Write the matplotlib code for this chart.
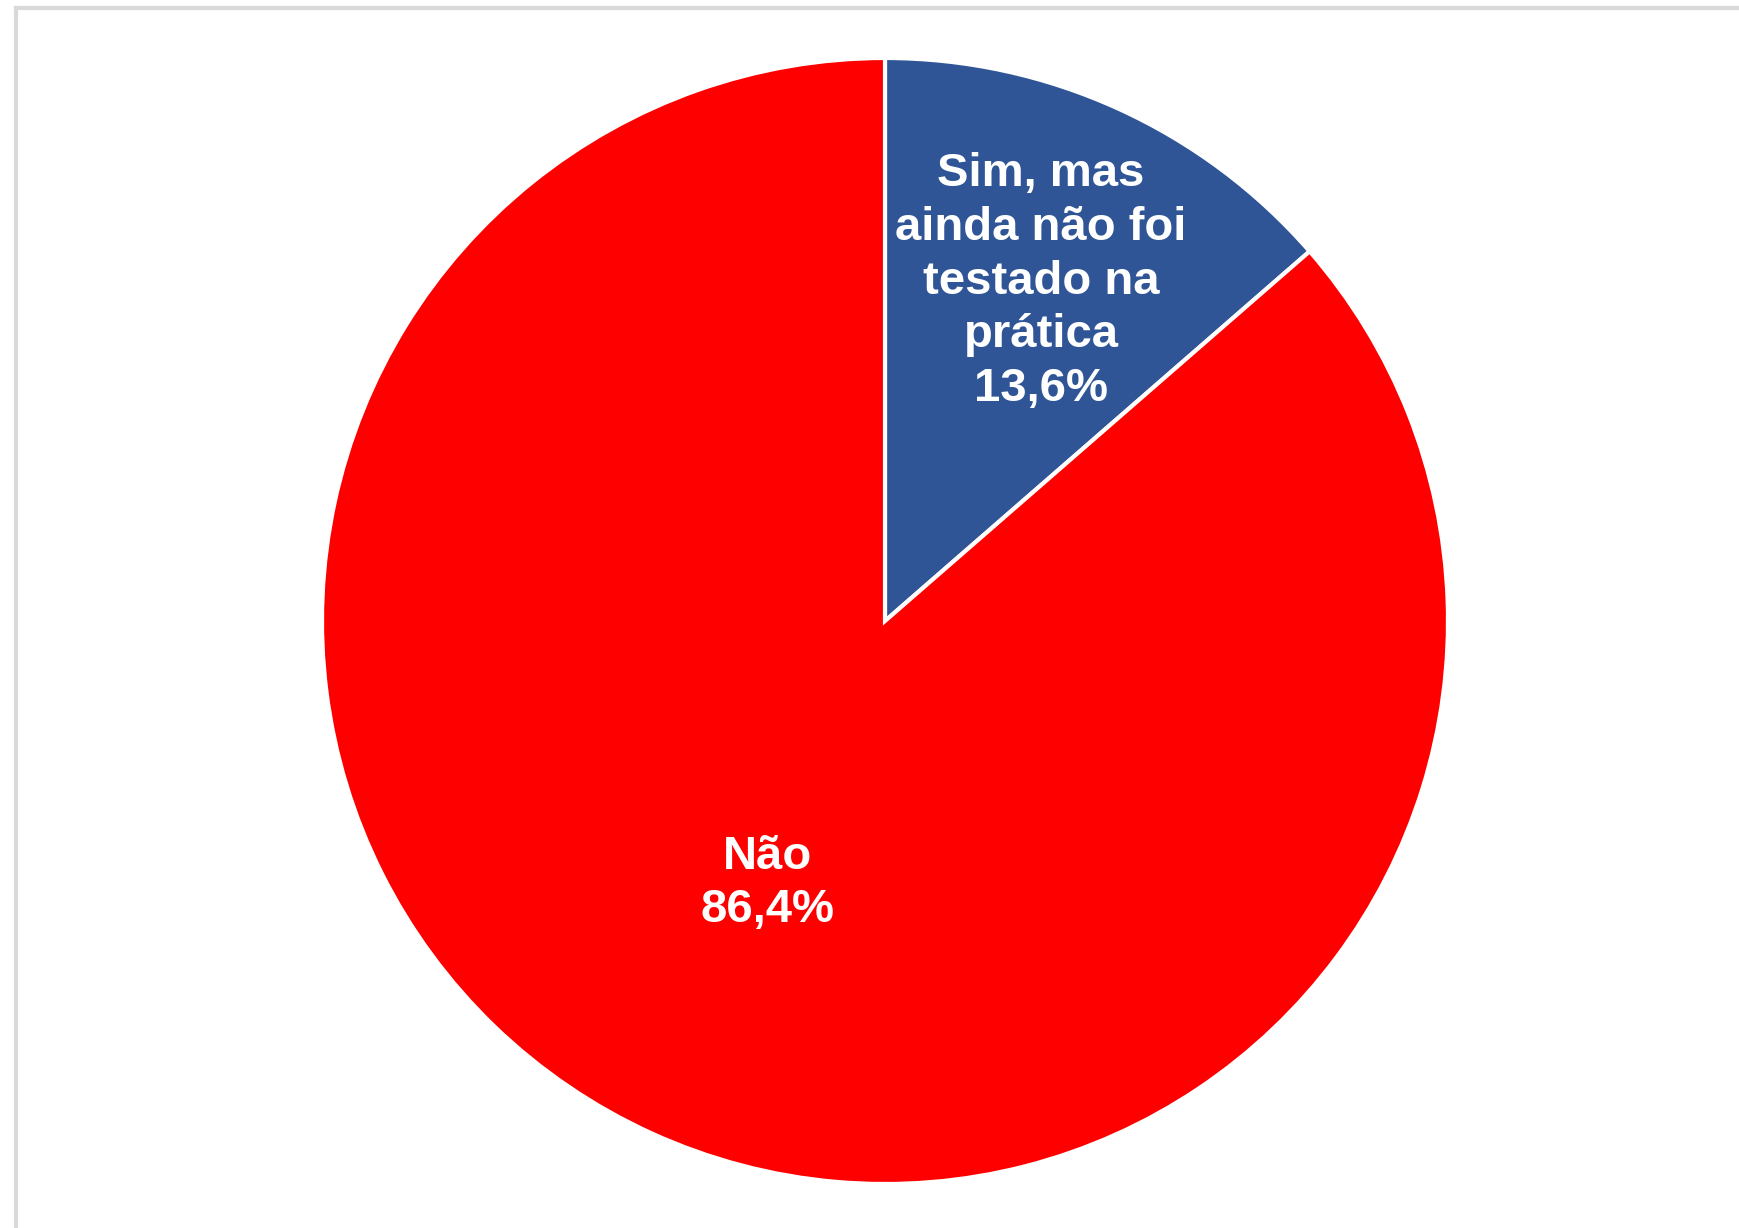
import matplotlib.pyplot as plt
from matplotlib.lines import Line2D

labels = ["Sim, mas\nainda não foi\ntestado na\nprática", "Não"]
values = [13.6, 86.4]
colors = ["#2F5597", "#FF0000"]
label_pos = [(0.277, 0.603), (-0.208, -0.466)]

W, H = 1740, 1228
fig = plt.figure(figsize=(W / 100, H / 100), dpi=100)
fig.patch.set_facecolor("white")

# gray frame (only left and top edges are visible)
fig.add_artist(Line2D([16 / W, 16 / W], [0, 1 - 8 / H], color="#D9D9D9", lw=3,
                      transform=fig.transFigure))
fig.add_artist(Line2D([16 / W, 1], [1 - 8 / H, 1 - 8 / H], color="#D9D9D9", lw=3,
                      transform=fig.transFigure))

cx, cy, r = 885, 621, 563
ax = fig.add_axes([(cx - r) / W, (H - cy - r) / H, 2 * r / W, 2 * r / H])
ax.pie(values, colors=colors, startangle=90, counterclock=False, radius=1,
       wedgeprops=dict(edgecolor="white", linewidth=3))
ax.set_xlim(-1, 1)
ax.set_ylim(-1, 1)
ax.set_aspect("equal")
ax.axis("off")

for lab, v, (x, y) in zip(labels, values, label_pos):
    txt = f"{lab}\n{v:.1f}%".replace(".", ",")
    ax.text(x, y, txt, ha="center", va="center", color="white",
            fontsize=34, fontweight="bold", family="Liberation Sans",
            linespacing=1.28)

fig.savefig("out.png", dpi=100)
